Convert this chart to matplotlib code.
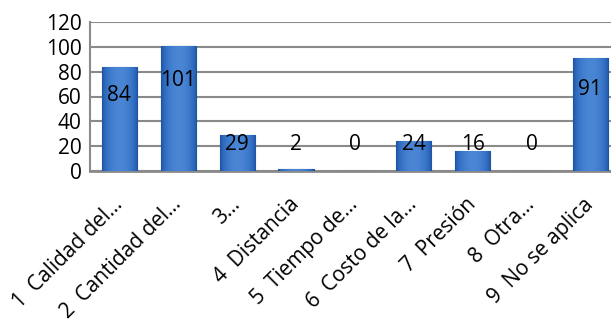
import numpy as np
import matplotlib.pyplot as plt
from matplotlib.colors import LinearSegmentedColormap

plt.rcParams['font.family'] = ['Open Sans', 'DejaVu Sans']

categories = ['1  Calidad del...', '2  Cantidad del...', '3...', '4  Distancia',
              '5  Tiempo de...', '6  Costo de la...', '7  Presión', '8  Otra...',
              '9  No se aplica']
values = [84, 101, 29, 2, 0, 24, 16, 0, 91]
yticks = [0, 20, 40, 60, 80, 100, 120]

fig = plt.figure(figsize=(6.11, 3.27), dpi=100)
ax = fig.add_axes([90 / 611, 156 / 327, 521 / 611, 149 / 327])

x = np.arange(len(values))
bars = ax.bar(x, values, width=0.6, color='#2f68b8', edgecolor='#1d4a8a',
              linewidth=0.8, zorder=3)

# smooth horizontal shading inside each bar
cmap = LinearSegmentedColormap.from_list('b', ['#1d4f9e', '#2f6cc0', '#4a86d4'])
t = np.linspace(0, 1, 64)
grad = np.sin(np.pi * t) ** 0.6
grad = grad[np.newaxis, :]
for b in bars:
    if b.get_height() <= 0:
        continue
    x0, w, h = b.get_x(), b.get_width(), b.get_height()
    im = ax.imshow(grad, extent=[x0, x0 + w, 0, h], aspect='auto', cmap=cmap,
                   interpolation='bilinear', zorder=3.5)
    im.set_clip_path(b)

for xi, v in zip(x, values):
    ax.text(xi, max(v * 0.72, 21), str(v), ha='center', va='center',
            fontsize=15, color='black', zorder=5)

ax.set_xlim(-0.5, 8.35)
ax.set_ylim(0, 120)
ax.set_yticks(yticks)
ax.set_yticklabels([str(t) for t in yticks], fontsize=15)
ax.yaxis.grid(True, color='#8a8a8a', linewidth=1.5, zorder=0)
ax.set_axisbelow(True)
ax.tick_params(axis='both', length=0, pad=6)

ax.set_xticks(x)
ax.set_xticklabels(categories, rotation=45, ha='right', va='center',
                   rotation_mode='anchor', fontsize=15)
ax.tick_params(axis='x', pad=22)

for s in ['top', 'right']:
    ax.spines[s].set_visible(False)
ax.spines['left'].set_color('#8a8a8a')
ax.spines['left'].set_linewidth(1.5)
ax.spines['bottom'].set_color('#8a8a8a')
ax.spines['bottom'].set_linewidth(2)

plt.savefig('out.png', dpi=100)
